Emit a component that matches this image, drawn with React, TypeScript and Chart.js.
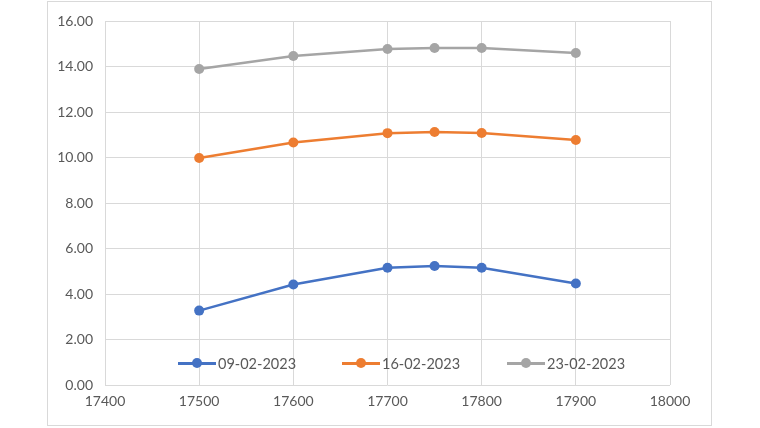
import { useEffect, useRef } from "react";
import { Chart, registerables } from "chart.js";

Chart.register(...registerables);

const strikes = [17500, 17600, 17700, 17750, 17800, 17900];
const series1 = [3.27, 4.42, 5.15, 5.23, 5.15, 4.46];
const series2 = [9.98, 10.66, 11.07, 11.12, 11.08, 10.77];
const series3 = [13.89, 14.46, 14.77, 14.81, 14.81, 14.59];
const seriesLabels = ["09-02-2023", "16-02-2023", "23-02-2023"];
const colors = ["#4472C4", "#ED7D31", "#A5A5A5"];

const FONT = "Lato, 'Open Sans', sans-serif";

export default function App() {
  const canvasRef = useRef<HTMLCanvasElement>(null);
  const chartRef = useRef<Chart | null>(null);

  useEffect(() => {
    document.body.style.margin = "0";
    if (!canvasRef.current) return;
    chartRef.current?.destroy();
    const all = [series1, series2, series3];
    chartRef.current = new Chart(canvasRef.current, {
      type: "line",
      data: {
        datasets: all.map((s, i) => ({
          label: seriesLabels[i],
          data: strikes.map((x, j) => ({ x, y: s[j] })),
          borderColor: colors[i],
          backgroundColor: colors[i],
          borderWidth: 2.5,
          pointRadius: 5,
          pointBorderWidth: 0,
          tension: 0,
        })),
      },
      options: {
        animation: false,
        responsive: false,
        layout: { padding: { left: 47, right: 90, top: 21, bottom: 12 } },
        plugins: { legend: { display: false }, tooltip: { enabled: false } },
        scales: {
          x: {
            type: "linear",
            min: 17400,
            max: 18000,
            ticks: { stepSize: 100, color: "#595959", font: { family: FONT, size: 14 }, padding: 8, callback: (v) => String(v) },
            grid: { color: "#d9d9d9", drawTicks: false },
            border: { display: false },
            afterFit: (s: any) => { s.height = 31; },
          },
          y: {
            min: 0,
            max: 16,
            ticks: { stepSize: 2, color: "#595959", font: { family: FONT, size: 14 }, padding: 12, callback: (v) => Number(v).toFixed(2) },
            grid: { color: "#d9d9d9", drawTicks: false },
            border: { display: false },
            afterFit: (s: any) => { s.width = 58; },
          },
        },
      },
    });
    return () => { chartRef.current?.destroy(); };
  }, []);

  const legendX = [178, 342, 507];

  return (
    <div style={{ position: "relative", width: 760, height: 428, fontFamily: FONT }}>
      <canvas ref={canvasRef} width={760} height={428} style={{ position: "absolute", left: 0, top: 0 }} />
      <div style={{ position: "absolute", left: 47, top: 1, width: 665, height: 425, border: "1px solid #d9d9d9", boxSizing: "border-box", pointerEvents: "none" }} />
      {seriesLabels.map((l, i) => (
        <div key={l} style={{ position: "absolute", left: legendX[i], top: 353, height: 20, display: "flex", alignItems: "center", color: "#595959", fontSize: 14.5 }}>
          <div style={{ position: "relative", width: 38, height: 20, marginRight: 2 }}>
            <div style={{ position: "absolute", left: 0, right: 0, top: 9, height: 2.5, background: colors[i] }} />
            <div style={{ position: "absolute", left: 14, top: 5, width: 10, height: 10, borderRadius: 5, background: colors[i] }} />
          </div>
          <span>{l}</span>
        </div>
      ))}
    </div>
  );
}
